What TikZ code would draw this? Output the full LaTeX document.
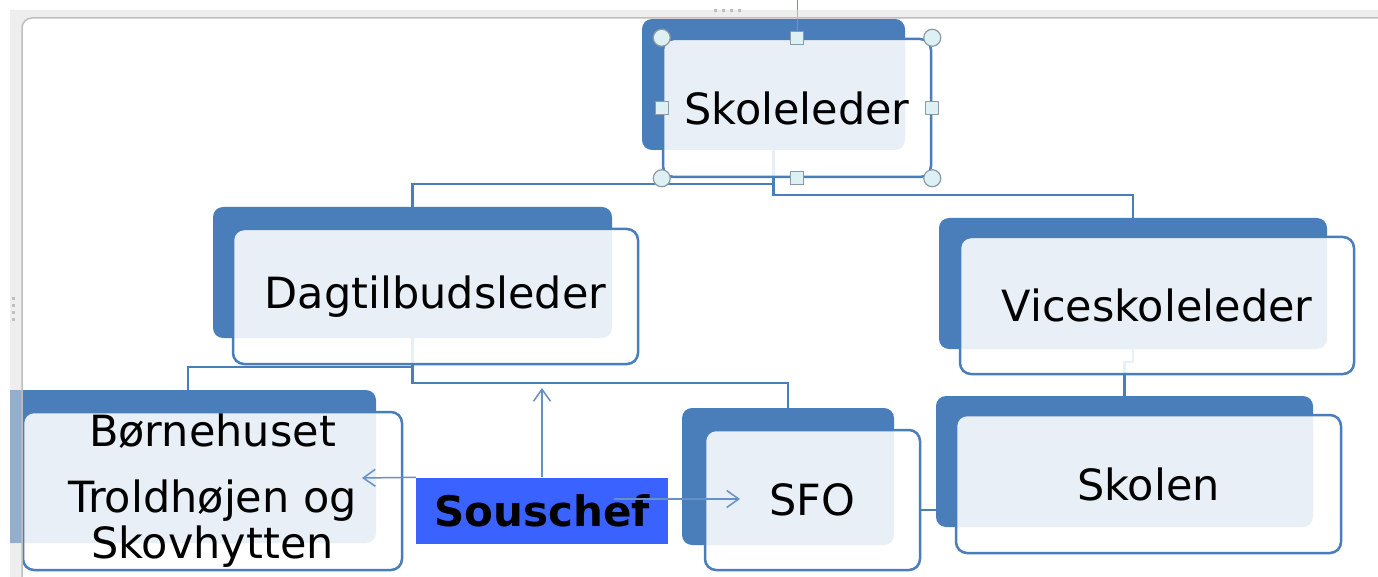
\documentclass[tikz,border=0pt]{standalone}
\usepackage{fontspec}
\setmainfont{DejaVu Sans}
\usetikzlibrary{arrows.meta, backgrounds}

\definecolor{orgblue}{HTML}{4A7EBB}
\definecolor{soublue}{HTML}{3A62FF}
\definecolor{handlefill}{HTML}{DDF1F4}
\definecolor{handleedge}{HTML}{8C9AA6}

\begin{document}
\begin{tikzpicture}[
    x=1pt, y=-1pt,
    backbox/.style={fill=orgblue, rounded corners=10pt, inner sep=0pt},
    unitbox/.style={draw=orgblue, line width=2.5pt, fill=white, fill opacity=0.88, text opacity=1,
        rounded corners=11pt, inner sep=0pt, align=center, font=\fontsize{43}{46}\selectfont},
    link/.style={draw=orgblue, line width=2.5pt},
    sou_arrow/.style={draw=orgblue!85, line width=1.5pt, -{Straight Barb[length=12pt, width=17pt]}},
    handle/.style={draw=handleedge, fill=handlefill, line width=1.2pt, inner sep=0pt}
]
    \useasboundingbox (0,0) rectangle (1378,577);

    % Back boxes
    \node[backbox, minimum width=263pt, minimum height=131pt] (slb) at (773.5,84.5) {};
    \node[backbox, minimum width=399pt, minimum height=131pt] (dtb) at (412.5,272.5) {};
    \node[backbox, minimum width=388pt, minimum height=131pt] (vsb) at (1133,283.5) {};
    \begin{scope}
        \clip (10,0) rectangle (1378,577);
        \node[backbox, minimum width=376pt, minimum height=153pt] (bhb) at (188,466.5) {};
    \end{scope}
    \node[backbox, minimum width=212pt, minimum height=137pt] (sfob) at (788,476.5) {};
    \node[backbox, minimum width=377pt, minimum height=131pt] (skob) at (1124.5,461.5) {};

    % Front boxes
    \node[unitbox, minimum width=268pt, minimum height=138pt] (sl) at (797,108) {Skoleleder};
    \node[unitbox, minimum width=405pt, minimum height=135pt] (dt) at (435.5,296.5) {Dagtilbudsleder};
    \node[unitbox, minimum width=394pt, minimum height=137pt] (vs) at (1157,305.5) {Viceskoleleder};
    \node[unitbox, minimum width=379pt, minimum height=158pt] (bh) at (212.5,491) {Børnehuset\\[20pt]Troldhøjen og\\Skovhytten};
    \node[unitbox, minimum width=215pt, minimum height=140pt] (sfo) at (812.5,500) {SFO};
    \node[unitbox, minimum width=385pt, minimum height=138pt] (sko) at (1148.5,484) {Skolen};

    % Connectors
    \begin{scope}[on background layer]
        \fill[white] (0,0) rectangle (1378,577);
        \draw[link] (slb.south) -- ++(0,34) -| (dtb.north);
        \draw[link] (slb.south) -- ++(0,45) -| (vsb.north);
        \draw[link] (dtb.south) -- ++(0,29) -| (bhb.north);
        \draw[link] (dtb.south) -- ++(0,45) -| (sfob.north);
        \draw[link] (vsb.south) -- ++(0,13) -| (skob.north);
        \draw[link] (sfo.east) ++(0,10) coordinate (sfo_r) -- (sfo_r -| skob.west);
    \end{scope}

    % Souschef
    \node[fill=soublue, minimum width=252pt, minimum height=66pt, inner sep=0pt,
        font=\fontsize{42}{46}\selectfont\bfseries] (sous) at (542,510.5) {Souschef};
    \coordinate (up_end) at (542,388);
    \coordinate (left_end) at (362,478);
    \coordinate (right_start) at (614,499);
    \coordinate (right_end) at (740,499);
    \draw[sou_arrow] (sous.north) -- (up_end);
    \draw[sou_arrow] (sous.north west) -- (left_end);
    \draw[sou_arrow] (right_start) -- (right_end);

    % Selection handles
    \draw[handleedge!70!orgblue, line width=1pt] (sl.north) -- (sl.north |- 0,0);
    \foreach \a in {north west, north east, south west, south east}
        \node[handle, circle, minimum size=17pt] at (sl.\a) {};
    \foreach \a in {north, south, east, west}
        \node[handle, minimum size=13pt] at (sl.\a) {};

    % Frame
    \fill[white] (0,0) rectangle (10,577);
    \fill[gray!25, fill opacity=0.5] (10,10) -- (1378,10) -- (1378,18) -- (32,18)
        arc[start angle=270, end angle=180, radius=10] -- (22,577) -- (10,577) -- cycle;
    \draw[gray!50, line width=1.5pt] (1378,18) -- (32,18)
        arc[start angle=270, end angle=180, radius=10] -- (22,577);
    \foreach \x in {714,722,730,738}
        \fill[gray!50] (\x,9) rectangle ++(3,3);
    \foreach \y in {297,304,311,318}
        \fill[gray!50] (12,\y) rectangle ++(3,3);

\end{tikzpicture}
\end{document}
